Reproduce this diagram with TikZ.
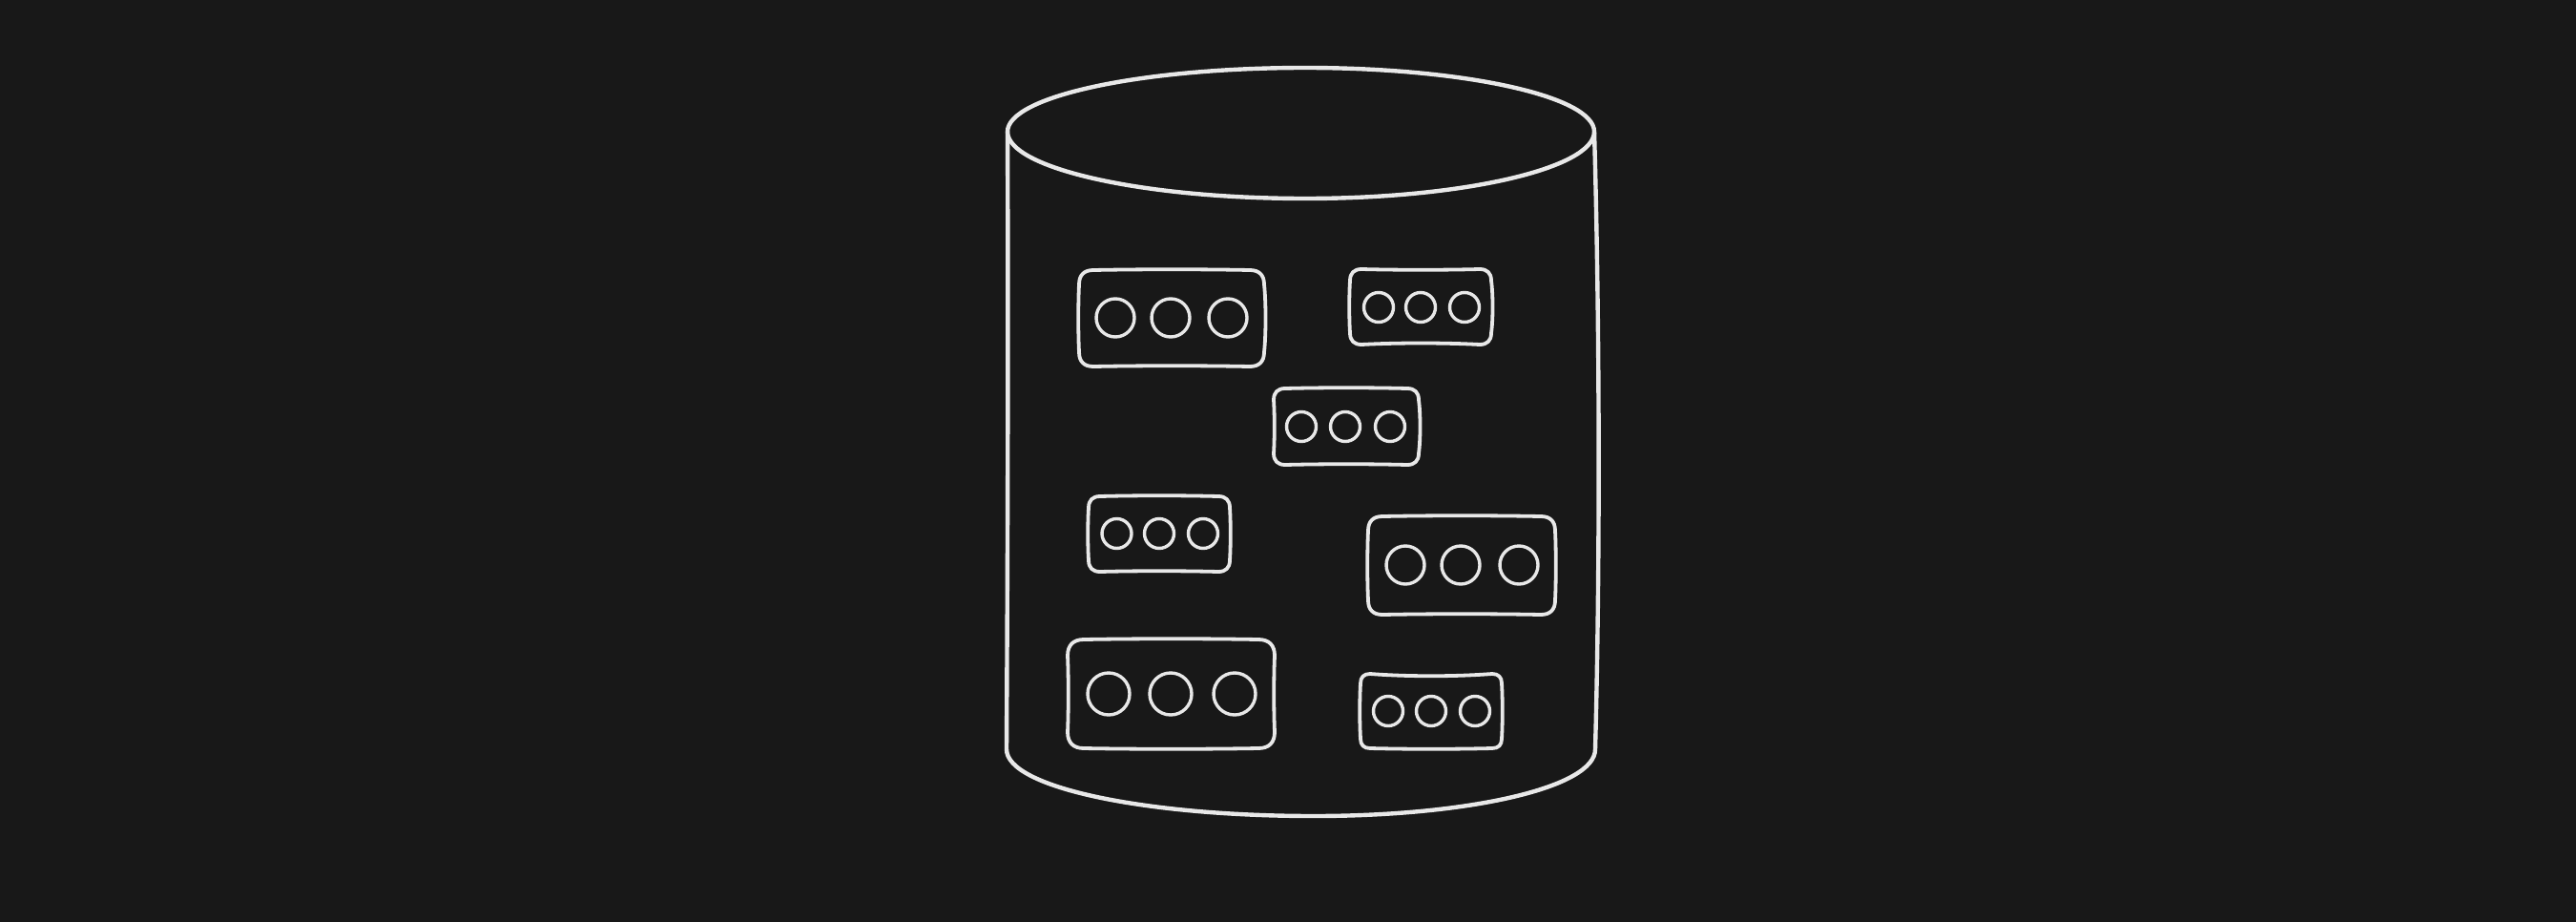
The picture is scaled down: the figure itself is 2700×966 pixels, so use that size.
\documentclass[tikz,border=0pt]{standalone}
\definecolor{bgc}{HTML}{181818}
\definecolor{inkc}{HTML}{E8E8E8}
\tikzset{
  drum/.style={draw=inkc,line width=4.4pt,line cap=round,line join=round},
  rack/.style={draw=inkc,line width=3.8pt,line cap=round,line join=round},
  hole/.style={draw=inkc,line width=3.4pt}
}
% x1 y1 x2 y2 r topbow rightbow bottombow leftbow
\newcommand{\wobblybox}[9]{%
  \draw[rack] ({#1+#5},#2)
    .. controls ({#1+(#3-#1)/3},{#2+#6}) and ({#1+2*(#3-#1)/3},{#2+#6}) .. ({#3-#5},#2)
    .. controls ({#3-.35*#5},#2) and (#3,{#2+.35*#5}) .. (#3,{#2+#5})
    .. controls ({#3+#7},{#2+(#4-#2)/3}) and ({#3+#7},{#2+2*(#4-#2)/3}) .. (#3,{#4-#5})
    .. controls (#3,{#4-.35*#5}) and ({#3-.35*#5},#4) .. ({#3-#5},#4)
    .. controls ({#1+2*(#3-#1)/3},{#4+#8}) and ({#1+(#3-#1)/3},{#4+#8}) .. ({#1+#5},#4)
    .. controls ({#1+.35*#5},#4) and (#1,{#4-.35*#5}) .. (#1,{#4-#5})
    .. controls ({#1+#9},{#2+2*(#4-#2)/3}) and ({#1+#9},{#2+(#4-#2)/3}) .. (#1,{#2+#5})
    .. controls (#1,{#2+.35*#5}) and ({#1+.35*#5},#2) .. ({#1+#5},#2) -- cycle;
}
\newcommand{\holes}[5]{%
  \draw[hole] (#1,#4) circle[radius=#5];
  \draw[hole] (#2,#4) circle[radius=#5];
  \draw[hole] (#3,#4) circle[radius=#5];
}
\begin{document}
\begin{tikzpicture}[x=1pt,y=-1pt]
  \useasboundingbox (0,0) rectangle (2700,966);
  \fill[bgc] (0,0) rectangle (2700,966);
  % top rim
  \draw[drum] (1056,138)
    .. controls (1056,101) and (1196,71) .. (1368,71)
    .. controls (1535,71) and (1671,101) .. (1671,138)
    .. controls (1671,176) and (1535,208) .. (1368,208)
    .. controls (1196,208) and (1056,176) .. (1056,138) -- cycle;
  % body
  \draw[drum] (1056,138) .. controls (1057,350) and (1056,600) .. (1055,785)
    .. controls (1055,825) and (1200,855) .. (1377,855)
    .. controls (1540,855) and (1672,825) .. (1672,785)
    .. controls (1677,600) and (1677,350) .. (1671,138);
  % racks
  \wobblybox{1131}{283}{1325}{384}{15}{-1}{2}{-1}{-1}
  \holes{1169}{1227}{1287}{333}{20}
  \wobblybox{1415}{282}{1563}{361}{12}{1}{2}{-2}{-1}
  \holes{1445}{1489}{1535}{322}{15.5}
  \wobblybox{1335}{407}{1487}{487}{12}{-1}{2}{-1}{1}
  \holes{1364}{1410}{1457}{447}{15.5}
  \wobblybox{1141}{520}{1289}{599}{12}{-1}{1}{-1}{-1}
  \holes{1170.5}{1215}{1261}{559}{15.5}
  \wobblybox{1434}{541}{1630}{644}{15}{-1}{1}{-1}{-1}
  \holes{1473}{1531}{1592}{592}{20}
  \wobblybox{1119}{670}{1336}{784}{17}{-1}{-1}{1}{1}
  \holes{1162}{1227}{1294}{727}{22}
  \wobblybox{1426}{706}{1574}{784}{10}{3}{1}{1}{-1}
  \holes{1455}{1500}{1546}{745}{15.5}
\end{tikzpicture}
\end{document}
